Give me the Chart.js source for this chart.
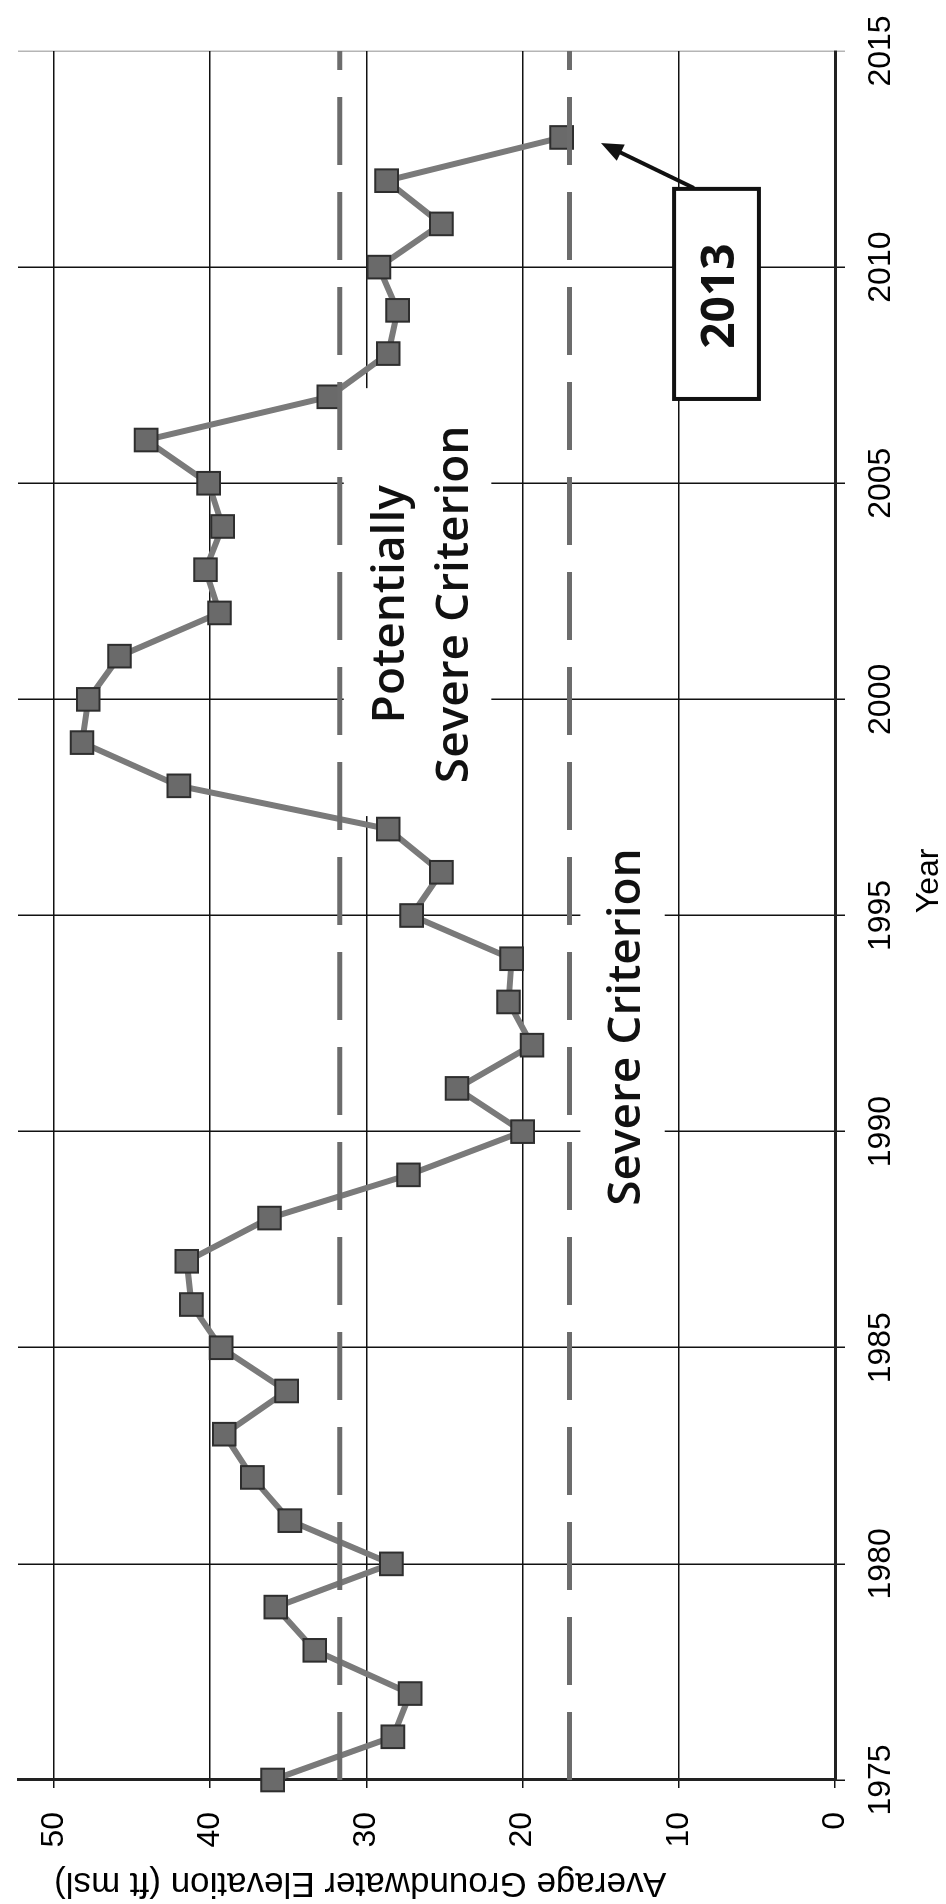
<!DOCTYPE html>
<html><head><meta charset="utf-8">
<script src="https://cdn.jsdelivr.net/npm/chart.js@4/dist/chart.umd.min.js"></script>
<style>
html,body{margin:0;padding:0;background:#fff;width:946px;height:1904px;overflow:hidden;}
#wrap{position:absolute;left:0;top:0;width:1904px;height:946px;transform-origin:0 0;transform:translate(0px,1904px) rotate(-90deg);background:#fff;}
#c{display:block;}
</style></head><body>
<div id="wrap"><canvas id="c" width="1904" height="946" style="width:1904px;height:946px"></canvas></div>
<script>
// ---- data ----
const years = [1975,1976,1977,1978,1979,1980,1981,1982,1983,1984,1985,1986,1987,1988,1989,1990,1991,1992,1993,1994,1995,1996,1997,1998,1999,2000,2001,2002,2003,2004,2005,2006,2007,2008,2009,2010,2011,2012,2013];
const elevations = [36.0,28.3,27.2,33.3,35.8,28.4,34.9,37.3,39.1,35.1,39.3,41.2,41.5,36.2,27.3,20.0,24.2,19.4,20.9,20.7,27.1,25.2,28.6,42.0,48.2,47.8,45.8,39.4,40.3,39.2,40.1,44.1,32.4,28.6,28.0,29.2,25.2,28.7,17.5];
const criterionYears = [1975, 2015];
const potentiallySevereLevel = 31.7;
const severeLevel = 17.0;
const yearTickStep = 5;
const elevationTicks = [0,10,20,30,40,50];
const xTitle = 'Year';
const yTitle = 'Average Groundwater Elevation (ft msl)';
const noteUpper = ['Potentially', 'Severe Criterion'];
const noteLower = 'Severe Criterion';
const calloutText = '2013';

// ---- annotation placement in data units (year, elevation) ----
const notes = {
  upperBox: {x0: 1997.3, x1: 2007.2, y0: 22.0, y1: 31.45},
  upperText: {x: 2002.2, y: [27.56, 23.5]},
  lowerBox: {x0: 1987.96, x1: 1996.86, y0: 10.9, y1: 16.3},
  lowerText: {x: 1992.42, y: 12.5},
  callBox: {x0: 2006.95, x1: 2011.81, y0: 4.87, y1: 10.3},
  callText: {x: 2009.33, y: 6.45},
  arrow: {x0: 2011.83, y0: 9.04, x1: 2012.87, y1: 14.98},
  xTitleAt: 1995.8,
  yTitleAt: 30.4
};

const notePlugin = {
  id: 'notes',
  beforeDatasetsDraw(chart) {
    const {ctx, scales: {x, y}} = chart;
    ctx.save();
    ctx.fillStyle = '#ffffff';
    [notes.upperBox, notes.lowerBox].forEach(b => {
      const px0 = x.getPixelForValue(b.x0), px1 = x.getPixelForValue(b.x1);
      const py0 = y.getPixelForValue(b.y1), py1 = y.getPixelForValue(b.y0);
      ctx.fillRect(px0, py0, px1 - px0, py1 - py0);
    });
    ctx.restore();
  },
  afterDatasetsDraw(chart) {
    const {ctx, scales: {x, y}} = chart;
    ctx.save();
    ctx.fillStyle = '#111';
    ctx.textAlign = 'center';
    ctx.textBaseline = 'alphabetic';
    ctx.font = '600 46px "Open Sans", sans-serif';
    noteUpper.forEach((t, i) => ctx.fillText(t, x.getPixelForValue(notes.upperText.x), y.getPixelForValue(notes.upperText.y[i])));
    ctx.fillText(noteLower, x.getPixelForValue(notes.lowerText.x), y.getPixelForValue(notes.lowerText.y));
    // callout box
    const b = notes.callBox;
    const bx0 = x.getPixelForValue(b.x0), bx1 = x.getPixelForValue(b.x1);
    const by0 = y.getPixelForValue(b.y1), by1 = y.getPixelForValue(b.y0);
    ctx.fillStyle = '#fff';
    ctx.fillRect(bx0, by0, bx1 - bx0, by1 - by0);
    ctx.strokeStyle = '#111';
    ctx.lineWidth = 4;
    ctx.strokeRect(bx0, by0, bx1 - bx0, by1 - by0);
    ctx.fillStyle = '#111';
    ctx.font = 'bold 46px "Open Sans", sans-serif';
    ctx.fillText(calloutText, x.getPixelForValue(notes.callText.x), y.getPixelForValue(notes.callText.y));
    // arrow
    const a = notes.arrow;
    const ax0 = x.getPixelForValue(a.x0), ay0 = y.getPixelForValue(a.y0);
    const ax1 = x.getPixelForValue(a.x1), ay1 = y.getPixelForValue(a.y1);
    const ang = Math.atan2(ay1 - ay0, ax1 - ax0);
    const hl = 22, hw = 9;
    ctx.beginPath();
    ctx.moveTo(ax0, ay0);
    ctx.lineTo(ax1 - Math.cos(ang) * hl * 0.8, ay1 - Math.sin(ang) * hl * 0.8);
    ctx.lineWidth = 4;
    ctx.stroke();
    ctx.beginPath();
    ctx.moveTo(ax1, ay1);
    ctx.lineTo(ax1 - Math.cos(ang) * hl - Math.sin(ang) * hw, ay1 - Math.sin(ang) * hl + Math.cos(ang) * hw);
    ctx.lineTo(ax1 - Math.cos(ang) * hl + Math.sin(ang) * hw, ay1 - Math.sin(ang) * hl - Math.cos(ang) * hw);
    ctx.closePath();
    ctx.fill();
    ctx.restore();
  },
  afterDraw(chart) {
    const {ctx, scales: {x, y}} = chart;
    ctx.save();
    ctx.fillStyle = '#000';
    ctx.textAlign = 'center';
    ctx.textBaseline = 'middle';
    // x-axis title
    ctx.font = '32px "Liberation Sans", Arial, sans-serif';
    ctx.fillText(xTitle, x.getPixelForValue(notes.xTitleAt), 929);
    // y-axis title
    ctx.font = '35px "Liberation Sans", Arial, sans-serif';
    ctx.translate(21, y.getPixelForValue(notes.yTitleAt));
    ctx.rotate(-Math.PI / 2);
    ctx.fillText(yTitle, 0, 0);
    ctx.restore();
  }
};

const tickFont = {family: '"Liberation Sans", Arial, sans-serif', size: 32};
const mainData = years.map((yr, i) => ({x: yr, y: elevations[i]}));
const critLine = lvl => criterionYears.map(yr => ({x: yr, y: lvl}));
const zeroPad = s => { s.paddingTop = 0; s.paddingBottom = 0; s.paddingLeft = 0; s.paddingRight = 0; };

new Chart(document.getElementById('c'), {
  type: 'line',
  data: {
    datasets: [
      {label: 'Potentially Severe Criterion', data: critLine(potentiallySevereLevel), borderColor: '#6c6c6c', borderWidth: 5, borderDash: [68, 27], pointRadius: 0, fill: false, clip: false},
      {label: 'Severe Criterion', data: critLine(severeLevel), borderColor: '#6c6c6c', borderWidth: 5, borderDash: [68, 27], pointRadius: 0, fill: false, clip: false},
      {label: 'Average Groundwater Elevation', data: mainData, borderColor: '#7a7a7a', borderWidth: 6, pointStyle: 'rect', pointRadius: 16, pointBackgroundColor: '#6a6a6a', pointBorderColor: '#2e2e2e', pointBorderWidth: 2, tension: 0, fill: false, clip: false}
    ]
  },
  options: {
    responsive: false,
    animation: false,
    devicePixelRatio: 1,
    layout: {padding: {top: 8, right: 51, left: 0, bottom: 0}},
    plugins: {legend: {display: false}, tooltip: {enabled: false}},
    scales: {
      x: {
        type: 'linear', position: 'bottom', min: 1975, max: 2015,
        ticks: {stepSize: yearTickStep, font: tickFont, color: '#000', padding: 17, maxRotation: 0, callback: v => String(v)},
        grid: {color: c => (c.tick && c.tick.value === 2015) ? '#b5b5b5' : '#111', lineWidth: 1.5, tickLength: 10},
        border: {display: true, color: '#222', width: 3},
        title: {display: false, text: xTitle},
        afterFit: s => { zeroPad(s); s.height = 111; }
      },
      y: {
        type: 'linear', min: 0, max: 52.3,
        afterBuildTicks: s => { s.ticks = elevationTicks.map(v => ({value: v})); },
        ticks: {font: tickFont, color: '#000', padding: 24, callback: v => String(v)},
        grid: {color: '#111', lineWidth: 1.5, tickLength: 8},
        border: {display: true, color: '#222', width: 3},
        title: {display: false, text: yTitle},
        afterFit: s => { zeroPad(s); s.width = 124; }
      }
    }
  },
  plugins: [notePlugin]
});
</script>
</body></html>
